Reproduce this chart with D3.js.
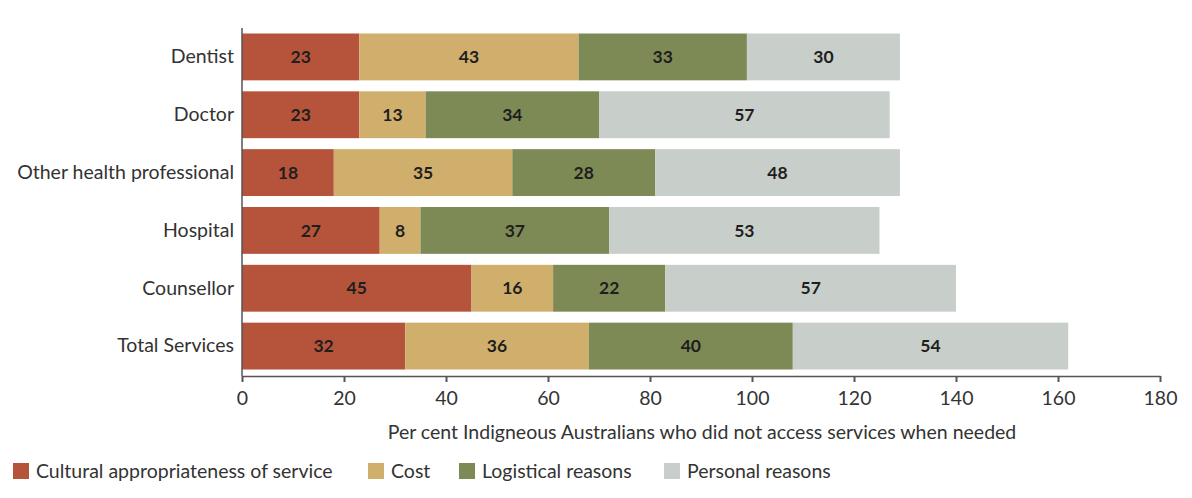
<!DOCTYPE html>
<html>
<head>
<meta charset="utf-8">
<script src="https://cdn.jsdelivr.net/npm/d3@7"></script>
<style>
  body { margin: 0; background: #fff; }
  svg { display: block; font-family: Lato, "Open Sans", sans-serif; }
</style>
</head>
<body>
<div id="chart"></div>
<script>
// data
const categories = ["Dentist", "Doctor", "Other health professional", "Hospital", "Counsellor", "Total Services"];
const seriesNames = ["Cultural appropriateness of service", "Cost", "Logistical reasons", "Personal reasons"];
const cultural = [23, 23, 18, 27, 45, 32];
const cost     = [43, 13, 35, 8, 16, 36];
const logistic = [33, 34, 28, 37, 22, 40];
const personal = [30, 57, 48, 53, 57, 54];
const xTicks = [0, 20, 40, 60, 80, 100, 120, 140, 160, 180];
const colours = ["#b5543a", "#d0ae6b", "#7d8a56", "#c8cec9"];

const W = 1192, H = 498;
const fs = "19.5px";
const svg = d3.select("#chart").append("svg")
  .attr("width", W).attr("height", H);

// build rows for the stack
const rows = categories.map((c, i) => ({
  cat: c, s0: cultural[i], s1: cost[i], s2: logistic[i], s3: personal[i]
}));
const keys = ["s0", "s1", "s2", "s3"];
const stacked = d3.stack().keys(keys)(rows);

const x = d3.scaleLinear().domain([0, 180]).range([242, 1160]);
const y = d3.scaleBand().domain(categories).range([28, 375])
  .paddingInner(0.19).paddingOuter(0.095);

const layers = svg.selectAll("g.layer")
  .data(stacked)
  .join("g")
  .attr("class", "layer")
  .attr("fill", (d, i) => colours[i]);

layers.selectAll("rect")
  .data(d => d)
  .join("rect")
  .attr("x", d => x(d[0]))
  .attr("y", d => y(d.data.cat))
  .attr("width", d => x(d[1]) - x(d[0]))
  .attr("height", y.bandwidth());

layers.selectAll("text")
  .data(d => d)
  .join("text")
  .attr("x", d => (x(d[0]) + x(d[1])) / 2)
  .attr("y", d => y(d.data.cat) + y.bandwidth() / 2)
  .attr("dy", "0.35em")
  .attr("text-anchor", "middle")
  .attr("fill", "#1e1e1e")
  .style("font-size", "17.5px")
  .style("font-weight", "bold")
  .text(d => d[1] - d[0]);

// x axis
const xAxis = svg.append("g")
  .attr("transform", "translate(0,376)")
  .call(d3.axisBottom(x).tickValues(xTicks).tickSize(6).tickSizeOuter(0).tickPadding(9));
xAxis.select(".domain").attr("stroke", "#555").attr("stroke-width", 1.5);
xAxis.selectAll(".tick line").attr("stroke", "#555").attr("stroke-width", 2);
xAxis.selectAll("text").style("font-size", fs).attr("fill", "#333").style("font-family", "Lato, sans-serif");

// y axis
const yAxis = svg.append("g")
  .attr("transform", "translate(242,0)")
  .call(d3.axisLeft(y).tickSize(0).tickPadding(8));
yAxis.select(".domain").attr("d", "M0,28V376").attr("stroke", "#555").attr("stroke-width", 1.5);
yAxis.selectAll("text").style("font-size", fs).attr("fill", "#333").style("font-family", "Lato, sans-serif");

// axis title
svg.append("text")
  .attr("x", 702).attr("y", 439)
  .attr("text-anchor", "middle")
  .attr("fill", "#333")
  .style("font-size", fs)
  .text("Per cent Indigneous Australians who did not access services when needed");

// legend
const legendX = [13, 368, 459, 664];
const legend = svg.selectAll("g.legend")
  .data(seriesNames)
  .join("g")
  .attr("class", "legend")
  .attr("transform", (d, i) => `translate(${legendX[i]},463)`);
legend.append("rect")
  .attr("width", 16).attr("height", 16)
  .attr("fill", (d, i) => colours[i]);
legend.append("text")
  .attr("x", 23).attr("y", 8)
  .attr("dy", "0.35em")
  .attr("fill", "#333")
  .style("font-size", fs)
  .text(d => d);
</script>
</body>
</html>
